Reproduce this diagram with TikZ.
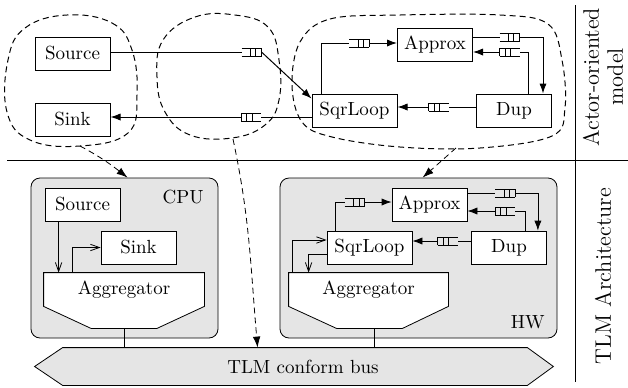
\documentclass[tikz,border=0pt]{standalone}
\usetikzlibrary{arrows.meta,calc}
\pgfdeclarelayer{back}
\pgfdeclarelayer{mid}
\pgfsetlayers{back,mid,main}

\tikzset{
  actor/.style={draw, fill=white, minimum width=37.5pt, minimum height=16.5pt, inner sep=0pt},
  wide/.style={actor, minimum width=42.5pt},
  unit/.style={draw, fill=gray!20, rounded corners=4.5pt, inner sep=0pt},
  aggtop/.style={minimum width=80pt, minimum height=16.5pt, inner sep=0pt},
  fifo/.style={minimum width=10pt, minimum height=4pt, inner sep=0pt, outer sep=0pt},
  % queue open on the left, filled from the left
  fifor/.style={fifo, append after command={
      (\tikzlastnode.north west) edge (\tikzlastnode.north east)
      (\tikzlastnode.south west) edge (\tikzlastnode.south east)
      (\tikzlastnode.north east) edge (\tikzlastnode.south east)
      ($(\tikzlastnode.north west)!0.45!(\tikzlastnode.north east)$) edge
      ($(\tikzlastnode.south west)!0.45!(\tikzlastnode.south east)$)
      ($(\tikzlastnode.north west)!0.72!(\tikzlastnode.north east)$) edge
      ($(\tikzlastnode.south west)!0.72!(\tikzlastnode.south east)$)}},
  % queue open on the right, filled from the right
  fifol/.style={fifo, append after command={
      (\tikzlastnode.north west) edge (\tikzlastnode.north east)
      (\tikzlastnode.south west) edge (\tikzlastnode.south east)
      (\tikzlastnode.north west) edge (\tikzlastnode.south west)
      ($(\tikzlastnode.north west)!0.28!(\tikzlastnode.north east)$) edge
      ($(\tikzlastnode.south west)!0.28!(\tikzlastnode.south east)$)
      ($(\tikzlastnode.north west)!0.55!(\tikzlastnode.north east)$) edge
      ($(\tikzlastnode.south west)!0.55!(\tikzlastnode.south east)$)}},
  fl/.style={-{Latex[length=5pt,width=3.6pt]}},
  op/.style={-{Straight Barb[length=4.5pt,width=3.2pt]}},
  blob/.style={dash pattern=on 3pt off 2pt},
  map/.style={dash pattern=on 3pt off 2pt, -{Latex[length=5.5pt,width=3.8pt]}},
  side/.style={rotate=90, align=center, inner sep=0pt, font=\fontsize{11.2}{12}\selectfont},
}

\begin{document}
\begin{tikzpicture}[x=0.5pt, y=-0.5pt, line width=0.5pt, font=\fontsize{9.5}{11}\selectfont]
\useasboundingbox (0,0) rectangle (628,387);

% frame lines and side captions
\draw (7,160) coordinate (hl) -- (628,160) coordinate (hr);
\draw (575,5) coordinate (vt) -- (575,382) coordinate (vb);
\node[side] (labA) at (603,77) {Actor-oriented\\model};
\node[side] (labT) at (603,276) {TLM Architecture};

% ---------------- actor-oriented model ----------------
\node[actor] (src) at (72.5,53.5) {Source};
\node[actor] (snk) at (72.5,119.5) {Sink};
\node[wide]  (sql) at (354.5,110.5) {SqrLoop};
\node[actor] (apx) at (435,44.5) {Approx};
\node[actor] (dup) at (514,110.5) {Dup};

\node[fifor] (f1) at (251.5,52) {};
\node[fifol] (f2) at (251,117) {};
\node[fifor] (f3) at (359,43) {};
\node[fifor] (f4) at (509.5,37) {};
\node[fifol] (f5) at (509.5,52) {};
\node[fifol] (f6) at (438.5,107) {};

\draw (src.east |- f1) -- (f1.west);
\draw[fl] (f1.east) -- ([yshift=-2.5pt]sql.north west);
\draw (sql.west |- f2) -- (f2.east);
\draw[fl] (f2.west) -- (snk.east |- f2);
\draw ($(sql.north west)+(10,0)$) |- (f3.west);
\draw[fl] (f3.east) -- (apx.west |- f3);
\draw (apx.east |- f4) -- (f4.west);
\draw[fl] (f4.east) -| ($(dup.north east)+(-9,0)$);
\draw ($(dup.north east)+(-24,0)$) |- (f5.east);
\draw[fl] (f5.west) -- (apx.east |- f5);
\draw (dup.west |- f6) -- (f6.east);
\draw[fl] (f6.west) -- (sql.east |- f6);

% actor groupings
\draw[blob] plot[smooth cycle, tension=0.7] coordinates
  {(67,15) (112,23) (132,50) (137,95) (128,133) (80,146) (30,140) (7,112) (8,60) (25,28)};
\draw[blob] plot[smooth cycle, tension=0.7] coordinates
  {(163,40) (195,17) (235,15) (268,27) (279,60) (279,100) (265,125) (232,138) (190,135) (165,112) (157,77)};
\draw[blob] plot[smooth cycle, tension=0.6] coordinates
  {(300,42) (330,19) (400,15) (500,15) (548,24) (562,60) (565,108) (552,136) (480,148) (400,147) (332,137) (302,122) (292,85)};
\coordinate (gL) at (80,146);
\coordinate (gM) at (233,139);
\coordinate (gR) at (456,148);

% ---------------- TLM architecture ----------------
\begin{pgfonlayer}{back}
  \node[unit, minimum width=93.5pt, minimum height=80pt] (cpu) at (124.5,258) {};
  \node[unit, minimum width=138.5pt, minimum height=80pt] (hw) at (418.5,258) {};
  \node[minimum width=232pt, minimum height=18.5pt, inner sep=0pt] (bus) at (295,366.5) {};
  \draw[fill=gray!20] (bus.north west) -- (bus.north east) -- ($(bus.east)+(26,0)$)
    -- (bus.south east) -- (bus.south west) -- ($(bus.west)+(-28,0)$) -- cycle;
\end{pgfonlayer}
\node[inner sep=0pt] (busl) at (303,366.5) {TLM conform bus};
\node[anchor=north east, inner sep=0pt] (cpul) at (204,190) {CPU};
\node[anchor=base east, inner sep=0pt] (hwl) at (545,328) {HW};

% CPU side
\node[actor] (src2) at (82.5,204.5) {Source};
\node[actor] (snk2) at (138.5,247.5) {Sink};
\node[aggtop] (agg1) at (124,289.5) {Aggregator};

% HW side
\node[actor] (apx2) at (429.5,204.5) {Approx};
\node[wide]  (sql2) at (369.5,247.5) {SqrLoop};
\node[actor] (dup2) at (509,247.5) {Dup};
\node[aggtop, minimum width=79.5pt] (agg2) at (368.5,289.5) {Aggregator};

\begin{pgfonlayer}{mid}
  \draw[fill=white] (agg1.north west) -- (agg1.north east) -- (agg1.south east)
    -- ($(agg1.south)+(33,22)$) -- ($(agg1.south)+(-33,22)$) -- (agg1.south west) -- cycle;
  \draw[fill=white] (agg2.north west) -- (agg2.north east) -- (agg2.south east)
    -- ($(agg2.south)+(34,22)$) -- ($(agg2.south)+(-32,22)$) -- (agg2.south west) -- cycle;
\end{pgfonlayer}

\node[fifor] (f7) at (354.5,202) {};
\node[fifor] (f8) at (505,193) {};
\node[fifol] (f9) at (505,211) {};
\node[fifol] (f10) at (447.5,241) {};

\draw[op] ($(src2.south west)+(14,0)$) -- ($(agg1.north west)+(15,0)$);
\draw[op] ($(agg1.north west)+(29,0)$) |- (snk2.west);

\draw ($(sql2.north west)+(9,0)$) |- (f7.west);
\draw[fl] (f7.east) -- (apx2.west |- f7);
\draw (apx2.east |- f8) -- (f8.west);
\draw[fl] (f8.east) -| ($(dup2.north east)+(-9,0)$);
\draw ($(dup2.north east)+(-22,0)$) |- (f9.east);
\draw[fl] (f9.west) -- (apx2.east |- f9);
\draw (dup2.west |- f10) -- (f10.east);
\draw[fl] (f10.west) -- (sql2.east |- f10);
\draw[op] ($(agg2.north west)+(4,0)$) |- ($(sql2.west)+(0,-7.5)$);
\draw[op] ($(sql2.west)+(0,6.5)$) -| ($(agg2.north west)+(20,0)$);

% aggregators on the bus
\draw ($(agg1.south)+(0,22)$) -- (bus.north -| agg1.south);
\draw ($(agg2.south)+(5.5,22)$) -- ($(bus.north -| agg2.south)+(5.5,0)$);

% mapping of actor groups onto units
\draw[map] (gL) to[out=-28, in=142] ($(cpu.north west)+(97,0)$);
\draw[map] (gM) to[out=-78, in=95] ($(bus.north west)+(195,0)$);
\draw[map] (gR) -- ($(hw.north west)+(143,0)$);
\end{tikzpicture}
\end{document}
